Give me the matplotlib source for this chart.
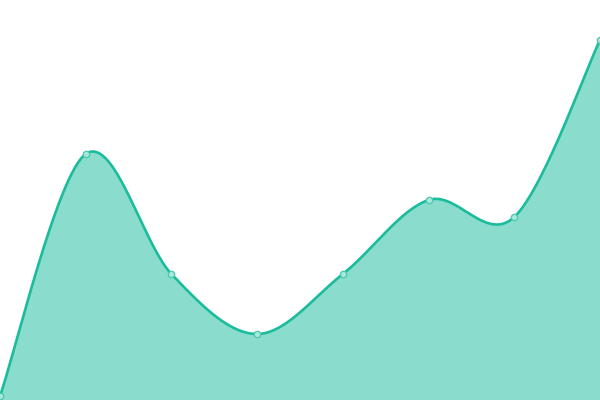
import numpy as np
import matplotlib
matplotlib.use("Agg")
import matplotlib.pyplot as plt

# ── Data ──────────────────────────────────────────────────────────────────
X_POS = [0, 1, 2, 3, 4, 5, 6, 7]
VALUES = [4, 246, 126, 66, 126, 200, 183, 360]

LINE_COLOR = "#1abc9c"


def catmull_rom(x, y, n=60):
    """Uniform Catmull-Rom spline through the points."""
    x = np.asarray(x, float)
    y = np.asarray(y, float)
    xp = np.concatenate([[x[0]], x, [x[-1]]])
    yp = np.concatenate([[y[0]], y, [y[-1]]])
    xs, ys = [], []
    for i in range(1, len(xp) - 2):
        t = np.linspace(0, 1, n, endpoint=(i == len(xp) - 3))
        h00 = 2 * t**3 - 3 * t**2 + 1
        h10 = t**3 - 2 * t**2 + t
        h01 = -2 * t**3 + 3 * t**2
        h11 = t**3 - t**2
        for src, dst in ((xp, xs), (yp, ys)):
            m0 = (src[i + 1] - src[i - 1]) / 2
            m1 = (src[i + 2] - src[i]) / 2
            dst.append(h00 * src[i] + h10 * m0 + h01 * src[i + 1] + h11 * m1)
    return np.concatenate(xs), np.concatenate(ys)


def main():
    fig = plt.figure(figsize=(6, 4), dpi=100)
    ax = fig.add_axes([0, 0, 1, 1])

    sx, sy = catmull_rom(X_POS, VALUES)
    ax.fill_between(sx, 0, sy, color=LINE_COLOR, alpha=0.51, lw=0)
    ax.plot(sx, sy, color=LINE_COLOR, lw=1.9, solid_capstyle="round")
    ax.plot(X_POS, VALUES, "o", ms=4.6, mfc="#a6e8db", mec="#4cc7ad",
            mew=0.9, clip_on=False)

    ax.set_xlim(0, 7)
    ax.set_ylim(0, 400)
    ax.axis("off")

    fig.savefig("out.png", dpi=100)
    plt.close(fig)


if __name__ == "__main__":
    main()
